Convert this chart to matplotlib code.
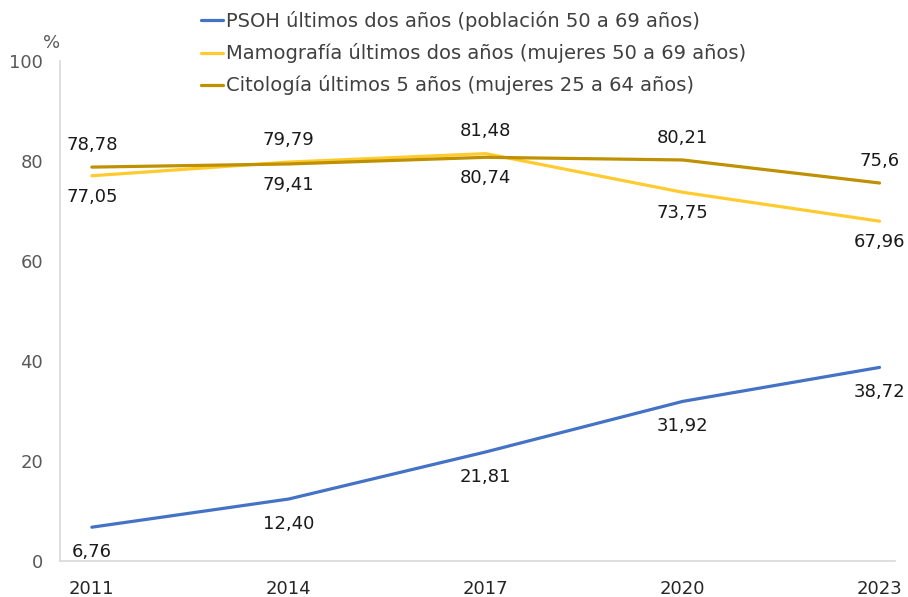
import matplotlib.pyplot as plt

# Datos de cribado (%), etiquetas tal como se muestran (coma decimal)
years = ["2011", "2014", "2017", "2020", "2023"]
psoh_txt = ["6,76", "12,40", "21,81", "31,92", "38,72"]
mamo_txt = ["77,05", "79,79", "81,48", "73,75", "67,96"]
cito_txt = ["78,78", "79,41", "80,74", "80,21", "75,6"]

series_names = [
    "PSOH últimos dos años (población 50 a 69 años)",
    "Mamografía últimos dos años (mujeres 50 a 69 años)",
    "Citología últimos 5 años (mujeres 25 a 64 años)",
]
colors = ["#4472C4", "#FFCB2E", "#BF9000"]


def to_num(labels):
    return [float(s.replace(",", ".")) for s in labels]


psoh = to_num(psoh_txt)
mamo = to_num(mamo_txt)
cito = to_num(cito_txt)

plt.rcParams["font.family"] = ["DejaVu Sans"]

fig = plt.figure(figsize=(9.08, 5.97), dpi=100)
ax = fig.add_axes([0.066, 0.0603, 0.92, 0.8375])

x = list(range(len(years)))
for vals, name, c in zip([psoh, mamo, cito], series_names, colors):
    ax.plot(x, vals, color=c, lw=2.3, label=name, solid_capstyle="round")

lab_kw = dict(ha="center", va="center", fontsize=13, color="#1a1a1a",
              textcoords="offset points")

# PSOH: etiquetas debajo de la línea
for i, (v, t) in enumerate(zip(psoh, psoh_txt)):
    ax.annotate(t, (i, v), xytext=(0, -18), **lab_kw)

# Mamografía / citología: la mayor arriba, la menor abajo
for i in x:
    pairs = [(mamo[i], mamo_txt[i]), (cito[i], cito_txt[i])]
    hi, lo = sorted(pairs, key=lambda p: -p[0])
    ax.annotate(hi[1], (i, hi[0]), xytext=(0, 16), **lab_kw)
    ax.annotate(lo[1], (i, lo[0]), xytext=(0, -15), **lab_kw)

ax.set_xlim(-0.162, 4.08)
ax.set_ylim(0, 100)
ax.set_xticks(x)
ax.set_xticklabels(years)
ax.set_yticks(range(0, 101, 20))
ax.tick_params(axis="both", length=0, labelsize=13, labelcolor="#595959")
ax.tick_params(axis="x", pad=14, labelcolor="#262626")
ax.tick_params(axis="y", pad=12)

for s in ["top", "right"]:
    ax.spines[s].set_visible(False)
for s in ["left", "bottom"]:
    ax.spines[s].set_color("#d9d9d9")
    ax.spines[s].set_linewidth(1.2)

fig.text(0.057, 0.928, "%", fontsize=13, color="#595959", ha="center", va="center")

ax.legend(loc="upper left", bbox_to_anchor=(0.16, 1.115), frameon=False,
          fontsize=14, handlelength=1.1, handletextpad=0.15, labelspacing=0.62,
          borderaxespad=0, labelcolor="#404040")

fig.savefig("out.png", dpi=100)
